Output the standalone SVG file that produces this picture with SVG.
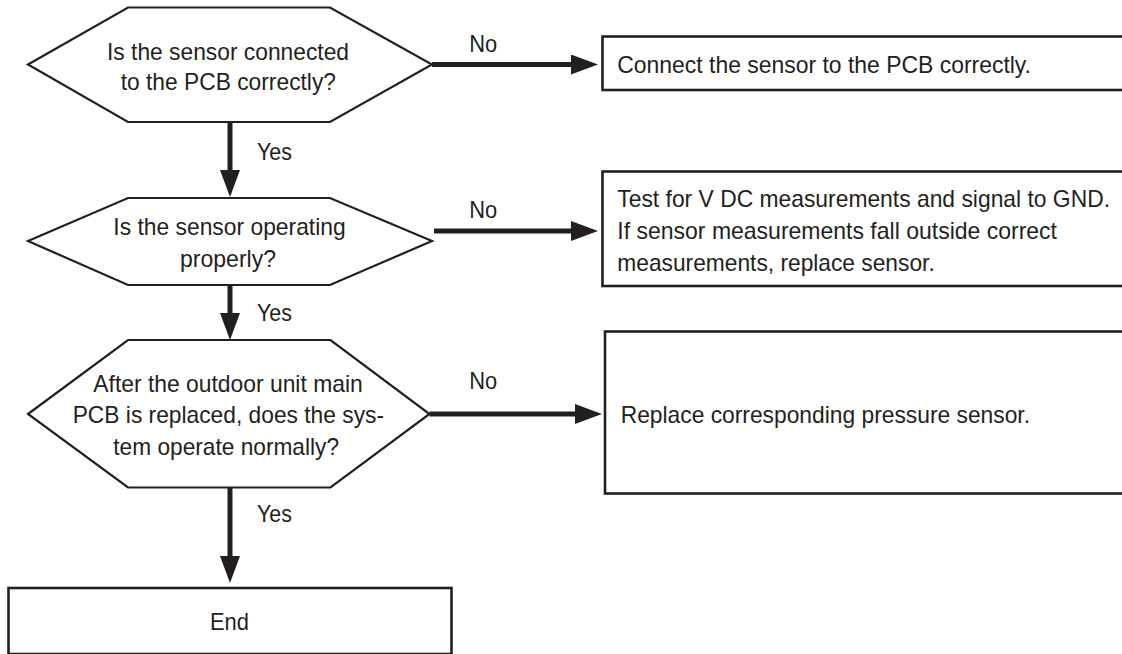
<svg xmlns="http://www.w3.org/2000/svg" width="1122" height="654" viewBox="0 0 1122 654">
<defs>
<style>
.shape{fill:#ffffff;stroke:#231f20;stroke-width:2.2;stroke-linejoin:miter}
.box{fill:#ffffff;stroke:#231f20;stroke-width:2.6}
.t{font-family:"Liberation Sans",Arial,sans-serif;font-size:24px;fill:#231f20}
.c{fill:none;stroke:#231f20;stroke-width:5;marker-end:url(#arr)}
</style>
<marker id="arr" markerUnits="userSpaceOnUse" markerWidth="27" markerHeight="20" refX="7" refY="10" orient="auto" viewBox="0 0 27 20">
<path d="M0,0 L27,10 L0,20 Z" fill="#231f20"/>
</marker>
</defs>
<rect width="1122" height="654" fill="#ffffff"/>
<g id="connectors">
<line class="c" x1="432" y1="64.5" x2="578" y2="64.5"/>
<line class="c" x1="434" y1="231" x2="578" y2="231"/>
<line class="c" x1="429.5" y1="414" x2="582" y2="414"/>
<line class="c" x1="230" y1="122" x2="230" y2="177"/>
<line class="c" x1="230" y1="285" x2="230" y2="320"/>
<line class="c" x1="230" y1="487.5" x2="230" y2="563"/>
<text class="t" x="469.3" y="51.7" textLength="28" lengthAdjust="spacingAndGlyphs">No</text>
<text class="t" x="469.3" y="218.3" textLength="28" lengthAdjust="spacingAndGlyphs">No</text>
<text class="t" x="469.3" y="389" textLength="28" lengthAdjust="spacingAndGlyphs">No</text>
<text class="t" x="257" y="160" textLength="35" lengthAdjust="spacingAndGlyphs">Yes</text>
<text class="t" x="257" y="321" textLength="35" lengthAdjust="spacingAndGlyphs">Yes</text>
<text class="t" x="257" y="521.7" textLength="35" lengthAdjust="spacingAndGlyphs">Yes</text>
</g>
<g id="q1">
<polygon class="shape" points="28,64.5 128,7.5 330,7.5 432,64.5 330,122 128,122"/>
<text class="t" x="107" y="59.5" textLength="242" lengthAdjust="spacingAndGlyphs">Is the sensor connected</text>
<text class="t" x="120.7" y="90" textLength="215.3" lengthAdjust="spacingAndGlyphs">to the PCB correctly?</text>
</g>
<g id="q2">
<polygon class="shape" points="28,241 128,198 330,198 432,241 330,285 128,285"/>
<text class="t" x="113.3" y="235" textLength="232.4" lengthAdjust="spacingAndGlyphs">Is the sensor operating</text>
<text class="t" x="180" y="266.5" textLength="96" lengthAdjust="spacingAndGlyphs">properly?</text>
</g>
<g id="q3">
<polygon class="shape" points="28,414 128,340 330.5,340 429.5,414 330.5,487.5 128,487.5"/>
<text class="t" x="93.3" y="391.5" textLength="269.4" lengthAdjust="spacingAndGlyphs">After the outdoor unit main</text>
<text class="t" x="72.7" y="423.2" textLength="311.3" lengthAdjust="spacingAndGlyphs">PCB is replaced, does the sys-</text>
<text class="t" x="113.3" y="455" textLength="225.7" lengthAdjust="spacingAndGlyphs">tem operate normally?</text>
</g>
<g id="a1">
<rect class="box" x="602.5" y="36.5" width="540" height="53.5"/>
<text class="t" x="617.3" y="72.7" textLength="413.7" lengthAdjust="spacingAndGlyphs">Connect the sensor to the PCB correctly.</text>
</g>
<g id="a2">
<rect class="box" x="602.5" y="171.5" width="540" height="114.5"/>
<text class="t" x="617.3" y="206.7" textLength="492.7" lengthAdjust="spacingAndGlyphs">Test for V DC measurements and signal to GND.</text>
<text class="t" x="617.3" y="239.3" textLength="439.7" lengthAdjust="spacingAndGlyphs">If sensor measurements fall outside correct</text>
<text class="t" x="617.3" y="271" textLength="317.4" lengthAdjust="spacingAndGlyphs">measurements, replace sensor.</text>
</g>
<g id="a3">
<rect class="box" x="605" y="331.5" width="540" height="162"/>
<text class="t" x="620.7" y="422.7" textLength="409.3" lengthAdjust="spacingAndGlyphs">Replace corresponding pressure sensor.</text>
</g>
<g id="end">
<rect class="box" x="8.5" y="588" width="443" height="66"/>
<text class="t" x="210" y="630" textLength="39" lengthAdjust="spacingAndGlyphs">End</text>
</g>
</svg>
